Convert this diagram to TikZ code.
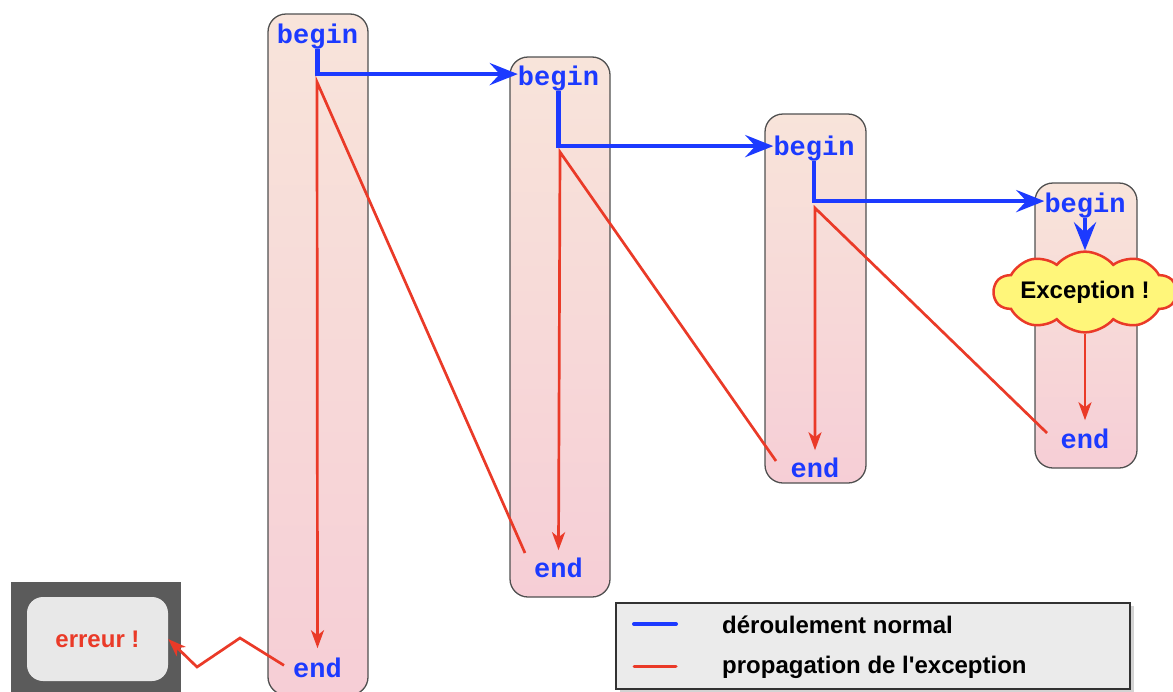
\documentclass[tikz,border=0pt]{standalone}
\usepackage{fontspec}
\setmainfont{Liberation Sans}
\newfontfamily\kwfont{Liberation Mono}
\usetikzlibrary{arrows.meta,shapes.symbols,shadows}
\definecolor{flowblue}{RGB}{28,58,255}
\definecolor{flowred}{RGB}{234,58,40}
\definecolor{boxtop}{RGB}{248,228,218}
\definecolor{boxbot}{RGB}{246,206,214}
\definecolor{boxgray}{RGB}{80,80,80}
\definecolor{cloudyellow}{RGB}{255,246,122}
\definecolor{framegray}{RGB}{91,91,91}
\definecolor{errgray}{RGB}{232,232,232}
\definecolor{legendgray}{RGB}{235,235,235}
\definecolor{legendborder}{RGB}{50,50,50}
\begin{document}
\begin{tikzpicture}[x=1pt,y=-1pt,
  blockbox/.style={draw=boxgray, line width=1.3pt, rounded corners=18pt,
    top color=boxtop, bottom color=boxbot, inner sep=0pt},
  kw/.style={font=\kwfont\bfseries\fontsize{27}{27}\selectfont, text=flowblue,
    inner sep=0pt, anchor=base},
  blueflow/.style={draw=flowblue, line width=4.5pt,
    -{Stealth[length=28pt,width=22pt,inset=10pt]}},
  redflow/.style={draw=flowred, line width=2.7pt,
    -{Stealth[length=18pt,width=13pt,inset=5pt]}},
  sanslabel/.style={font=\bfseries\fontsize{24}{24}\selectfont, inner sep=0pt},
]
\useasboundingbox (0,0) rectangle (1173,691);

% blocks
\node[blockbox, minimum width=100pt, minimum height=681pt] (blk1) at (318,354.5) {};
\node[blockbox, minimum width=100pt, minimum height=540pt] (blk2) at (560,327) {};
\node[blockbox, minimum width=101pt, minimum height=369pt] (blk3) at (815.5,298.5) {};
\node[blockbox, minimum width=102pt, minimum height=285pt] (blk4) at (1086,325.5) {};

% keywords
\node[kw] (beg1) at (317.5,43) {begin};
\node[kw] (beg2) at (558.5,85) {begin};
\node[kw] (beg3) at (814,155) {begin};
\node[kw] (beg4) at (1085,212) {begin};
\node[kw] (end1) at (317.5,677) {end};
\node[kw] (end2) at (558.5,577) {end};
\node[kw] (end3) at (815,477) {end};
\node[kw] (end4) at (1085,448) {end};

% exception cloud
\node[cloud, cloud puffs=10, cloud puff arc=100, aspect=3.2, draw=flowred, line width=2.5pt,
  fill=cloudyellow, minimum width=172pt, minimum height=56pt, inner sep=0pt,
  sanslabel] (exc) at (1085,292) {Exception !};

% normal flow
\draw[blueflow] (beg1.south) |- ([yshift=4pt]beg2.west);
\draw[blueflow] (beg2.south) |- ([yshift=2pt]beg3.west);
\draw[blueflow] (beg3.south) |- ([yshift=4pt]beg4.west);
\draw[blueflow] (beg4.south) -- (exc.north);

% exception propagation
\coordinate (ap1) at (317,82);
\coordinate (ap2) at (560,152);
\coordinate (ap3) at (815,208);
\coordinate (rs2) at (525,553);
\coordinate (rs3) at (776,461);
\coordinate (rs4) at (1047,433);
\draw[redflow] (exc.south) -- ([yshift=8pt]end4.north);
\draw[redflow] (rs4) -- (ap3) -- ([yshift=7pt]end3.north);
\draw[redflow] (rs3) -- (ap2) -- ([yshift=7pt]end2.north);
\draw[redflow] (rs2) -- (ap1) -- ([yshift=9pt]end1.north);

% error box
\node[fill=framegray, minimum width=170pt, minimum height=115pt, inner sep=0pt]
  (errframe) at (96,639.5) {};
\node[fill=errgray, rounded corners=16pt, minimum width=141pt, minimum height=84pt,
  inner sep=0pt, text=flowred, sanslabel] (err) at (97.5,639) {erreur !};
\coordinate (z1) at (240,638);
\coordinate (z2) at (197,667);
\draw[redflow] ([xshift=-9pt,yshift=2pt]end1.west) -- (z1) -- (z2) -- (err.east);

% legend
\node[draw=legendborder, fill=legendgray, line width=1.2pt, minimum width=514pt,
  minimum height=86pt, inner sep=0pt,
  drop shadow={shadow xshift=4pt, shadow yshift=-3pt, opacity=0.35}] (leg) at (873,646) {};
\draw[flowblue, line width=4pt, line cap=round] (634,624) -- (676,624);
\draw[flowred, line width=3pt, line cap=round] (634,666) -- (676,666);
\node[sanslabel, anchor=base west] (lg1) at (722,633) {déroulement normal};
\node[sanslabel, anchor=base west] (lg2) at (722,673) {propagation de l\textquotesingle exception};
\end{tikzpicture}
\end{document}
